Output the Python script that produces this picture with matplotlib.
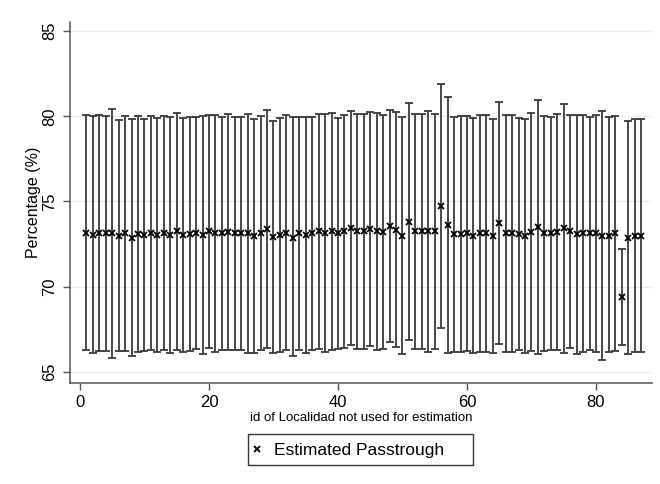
import numpy as np
import matplotlib
matplotlib.use("Agg")
import matplotlib.pyplot as plt
from matplotlib.patches import Rectangle

plt.rcParams['font.family'] = ['Liberation Sans', 'DejaVu Sans']

# id of Localidad left out of the estimation
ids = list(range(1, 88))

# estimated passthrough (%)
est = [73.16, 73.06, 73.14, 73.12, 73.12, 73.00, 73.12, 72.88, 73.08, 73.04,
       73.16, 73.04, 73.14, 73.04, 73.24, 73.04, 73.08, 73.16, 73.04, 73.24,
       73.12, 73.12, 73.20, 73.12, 73.12, 73.12, 72.96, 73.16, 73.39, 72.92,
       73.04, 73.16, 72.88, 73.12, 73.04, 73.12, 73.24, 73.16, 73.24, 73.12,
       73.24, 73.43, 73.24, 73.24, 73.39, 73.24, 73.20, 73.55, 73.35, 73.00,
       73.82, 73.24, 73.24, 73.24, 73.24, 74.73, 73.63, 73.08, 73.08, 73.12,
       73.00, 73.12, 73.12, 72.96, 73.75, 73.12, 73.12, 73.08, 72.96, 73.20,
       73.51, 73.12, 73.12, 73.20, 73.43, 73.24, 73.08, 73.12, 73.12, 73.12,
       72.98, 72.96, 73.12, 69.39, 72.88, 73.00, 73.00]

# upper bound of the interval
hi = [80.06, 80.02, 80.06, 80.04, 80.45, 79.80, 80.02, 79.82, 80.02, 79.86,
      80.02, 79.90, 80.02, 79.98, 80.18, 79.90, 79.94, 79.98, 80.02, 80.06,
      80.06, 79.98, 80.14, 79.98, 79.98, 80.14, 79.82, 80.02, 80.37, 79.75,
      79.90, 80.06, 79.94, 79.98, 79.98, 79.98, 80.14, 80.14, 80.18, 79.90,
      80.06, 80.29, 80.14, 80.14, 80.25, 80.18, 80.06, 80.37, 80.25, 79.94,
      80.76, 80.14, 80.14, 80.29, 80.14, 81.88, 81.16, 79.98, 80.02, 80.02,
      79.90, 80.06, 80.06, 79.82, 80.84, 80.06, 80.06, 79.90, 79.82, 80.18,
      80.96, 80.02, 79.94, 80.14, 80.73, 80.10, 80.10, 80.10, 79.98, 80.10,
      80.29, 79.98, 80.02, 72.22, 79.71, 79.82, 79.86]

# lower bound of the interval
lo = [66.26, 66.10, 66.22, 66.20, 65.79, 66.20, 66.22, 65.94, 66.14, 66.22,
      66.30, 66.18, 66.26, 66.10, 66.30, 66.18, 66.22, 66.34, 66.06, 66.42,
      66.18, 66.26, 66.26, 66.26, 66.26, 66.10, 66.10, 66.30, 66.41, 66.09,
      66.18, 66.26, 65.90, 66.26, 66.10, 66.26, 66.34, 66.18, 66.30, 66.34,
      66.42, 66.57, 66.34, 66.34, 66.53, 66.30, 66.34, 66.73, 66.45, 66.06,
      66.88, 66.34, 66.34, 66.19, 66.34, 67.58, 66.10, 66.18, 66.14, 66.22,
      66.10, 66.18, 66.18, 66.10, 66.66, 66.18, 66.18, 66.26, 66.10, 66.22,
      66.06, 66.22, 66.30, 66.26, 66.13, 66.38, 66.06, 66.14, 66.26, 66.14,
      65.67, 66.14, 66.22, 66.56, 66.05, 66.18, 66.14]

yticks = [65, 70, 75, 80, 85]
xticks = [0, 20, 40, 60, 80]

est = np.array(est)
yerr = [est - np.array(lo), np.array(hi) - est]

fig = plt.figure(figsize=(6.6, 4.84), dpi=100)
ax = fig.add_axes([0.106, 0.209, 0.882, 0.746])

for y in yticks:
    ax.axhline(y, color='#e6eef0', lw=1.0, zorder=0)

ax.errorbar(ids, est, yerr=yerr, fmt='none', ecolor='#3a3a3a',
            elinewidth=1.3, capsize=3.2, capthick=1.3, zorder=2)
ax.plot(ids, est, 'x', color='black', ms=4.5, mew=1.3, zorder=3,
        label='Estimated Passtrough')

ax.set_xlim(-1.55, 88.7)
ax.set_ylim(64.35, 85.55)
ax.set_xticks(xticks)
ax.set_yticks(yticks)
ax.set_yticklabels([str(t) for t in yticks], rotation=90, va='center')
ax.tick_params(axis='both', direction='out', length=5, width=1,
               color='#555555', labelsize=12)
ax.tick_params(axis='y', pad=4)

for s in ['top', 'right']:
    ax.spines[s].set_visible(False)
for s in ['left', 'bottom']:
    ax.spines[s].set_color('#555555')
    ax.spines[s].set_linewidth(1.1)

ax.set_ylabel('Percentage (%)', fontsize=11.5, labelpad=1)
ax.set_xlabel('id of Localidad not used for estimation', fontsize=9.5,
              labelpad=2)

# legend box drawn by hand so its padding matches
fig.patches.append(Rectangle((248 / 660, 1 - 465 / 484), 225 / 660, 31 / 484,
                             transform=fig.transFigure, facecolor='white',
                             edgecolor='#333333', lw=1.0))
leg = fig.legend(loc='center left', bbox_to_anchor=(250 / 660, 1 - 450 / 484),
                 frameon=False, fontsize=12.5, handlelength=0.8,
                 handletextpad=0.6, borderpad=0, borderaxespad=0)

fig.savefig('out.png', dpi=100, facecolor='white')
